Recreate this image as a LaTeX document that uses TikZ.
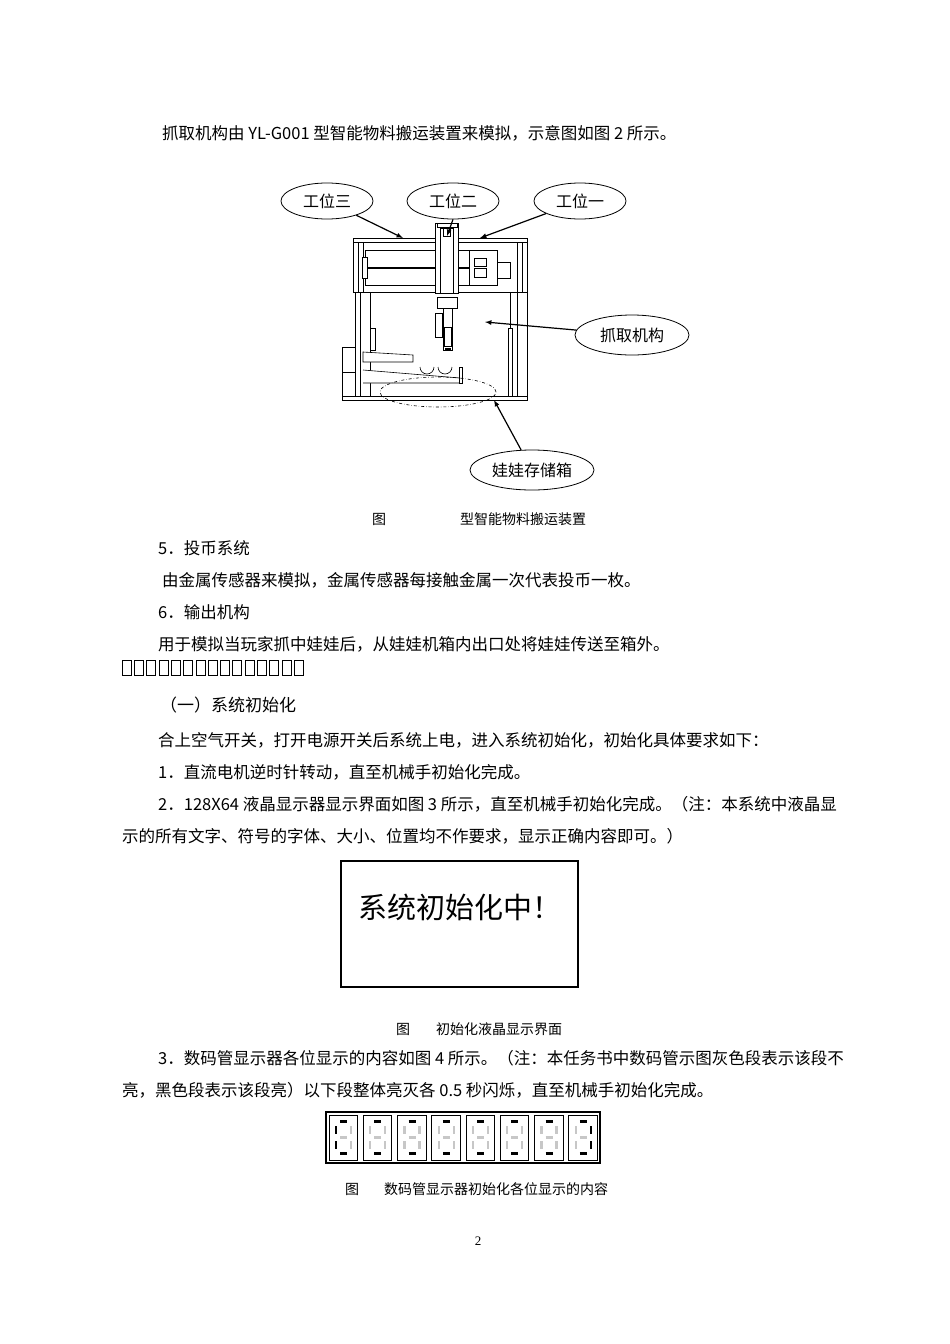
\documentclass[tikz,border=0pt]{standalone}
\usepackage{fontspec}
\setmainfont{Liberation Serif}
\newfontfamily\cjk{Noto Sans CJK SC}
\usetikzlibrary{shapes.geometric}
\begin{document}
\begin{tikzpicture}[x=1pt,y=-1pt,
 txt/.style={anchor=west,inner sep=0pt,font=\cjk\fontsize{16.5}{19}\selectfont},
 captxt/.style={anchor=west,inner sep=0pt,font=\cjk\fontsize{14}{16}\selectfont},
 lab/.style={draw,ellipse,thick,minimum width=92pt,minimum height=36pt,inner sep=0pt,font=\cjk\fontsize{16}{18}\selectfont},
 arr/.style={line width=1.2pt,-latex},
 part/.style={draw,line width=0.6pt,fill=white},
 segon/.style={line width=2.4pt,black},
 segoff/.style={line width=2.4pt,black!22}]
\useasboundingbox (0,0) rectangle (950,1344);
\fill[white] (0,0) rectangle (950,1344);
% text
\node[txt] (t1) at (162,133) {抓取机构由 YL-G001 型智能物料搬运装置来模拟，示意图如图 2 所示。};
\node[captxt] (c1a) at (372,519) {图};
\node[captxt] (c1b) at (460,519) {型智能物料搬运装置};
\node[txt] (t2) at (158,548) {5．投币系统};
\node[txt] (t3) at (162,580) {由金属传感器来模拟，金属传感器每接触金属一次代表投币一枚。};
\node[txt] (t4) at (158,612) {6．输出机构};
\node[txt] (t5) at (158,644) {用于模拟当玩家抓中娃娃后，从娃娃机箱内出口处将娃娃传送至箱外。};
\foreach \i in {0,...,14} \draw[line width=0.5pt] (122+\i*12.3,660) rectangle ++(9,15);
\node[txt,font=\cjk\fontsize{17}{20}\selectfont] (t6) at (160,705) {（一）系统初始化};
\node[txt] (t7) at (158,740) {合上空气开关，打开电源开关后系统上电，进入系统初始化，初始化具体要求如下：};
\node[txt] (t8) at (158,772) {1．直流电机逆时针转动，直至机械手初始化完成。};
\node[txt] (t9) at (158,804) {2．128X64 液晶显示器显示界面如图 3 所示，直至机械手初始化完成。（注：本系统中液晶显};
\node[txt] (t10) at (122,836) {示的所有文字、符号的字体、大小、位置均不作要求，显示正确内容即可。）};
\node[draw,line width=2.8pt,minimum width=237pt,minimum height=126pt] (lcd) at (459.5,924) {};
\node[inner sep=0pt,font=\cjk\fontsize{29}{32}\selectfont] (lcdt) at (460,907) {系统初始化中！};
\node[captxt] (c2a) at (396,1029) {图};
\node[captxt] (c2b) at (436,1029) {初始化液晶显示界面};
\node[txt] (t11) at (158,1058) {3．数码管显示器各位显示的内容如图 4 所示。（注：本任务书中数码管示图灰色段表示该段不};
\node[txt] (t12) at (122,1090) {亮，黑色段表示该段亮）以下段整体亮灭各 0.5 秒闪烁，直至机械手初始化完成。};
% seven segment
\draw[line width=2.2pt] (326,1112) rectangle (600,1163);
\foreach \i in {0,...,7}{
 \begin{scope}[shift={(326+\i*34.25,1112)}]
 \draw[line width=0.9pt] (3,3) rectangle (31.5,48);
 \def\sa{segon}\def\sd{segon}
 \ifnum\i=0 \def\sf{segon}\def\se{segon}\else\def\sf{segoff}\def\se{segoff}\fi
 \ifnum\i=7 \def\sb{segon}\def\sc{segon}\else\def\sb{segoff}\def\sc{segoff}\fi
 \draw[\sa] (14,9.5)--(21,9.5);
 \draw[\sd] (14,41.5)--(21,41.5);
 \draw[segoff] (14,25.5)--(21,25.5);
 \draw[\sf] (10,14)--(10,22);
 \draw[\se] (10,29)--(10,37);
 \draw[\sb] (25,14)--(25,22);
 \draw[\sc] (25,29)--(25,37);
 \end{scope}}
\node[captxt] (c3a) at (345,1189) {图};
\node[captxt] (c3b) at (384,1189) {数码管显示器初始化各位显示的内容};
\node[inner sep=0pt,font=\fontsize{13}{15}\selectfont] (pg) at (478,1241) {2};
% machine
\draw[part] (342,347) rectangle (363,400);
\draw[part] (342,372) -- (363,372);
\draw[part] (353,238) rectangle (527,292);
\draw[part] (353,242) -- (527,242);
\draw[part] (358,242) -- (358,292) (363,242) -- (363,292) (517,242) -- (517,292) (522,242) -- (522,292);
\draw[part] (365,250) rectangle (470,285);
\draw[line width=2pt] (368,268) -- (470,268);
\draw[part] (362,257) rectangle (367,278);
\draw[part] (469,250) rectangle (497,285);
\draw[part] (474,258) rectangle (486,266) (474,268) rectangle (486,277);
\draw[part] (497,262) rectangle (510,278);
\draw[part] (355,292) rectangle (370,396);
\draw[part] (360,292) -- (360,396);
\draw[part] (370,328) rectangle (375,350);
\draw[part] (510,292) rectangle (527,396);
\draw[part] (517,292) -- (517,396);
\draw[part] (508,328) rectangle (512,396);
\draw[part] (363,352) -- (413,355) -- (413,362) -- (363,362) -- cycle;
\draw[part] (363,370) -- (460,378) -- (460,383) -- (363,383);
\draw[part] (420,367) arc (180:0:7) (438,367) arc (180:0:7);
\draw[part] (459,367) rectangle (462,383);
\draw[part] (342,396) rectangle (527,400);
\draw[part] (435,223) rectangle (458,293);
\draw[part] (440,228) rectangle (453,293);
\draw[part] (437,223) rectangle (457,227);
\draw[part] (443,228) rectangle (450,236);
\draw[part] (437,297) rectangle (457,308);
\draw[part] (443,308) rectangle (452,350);
\draw[part] (435,313) rectangle (442,337);
\draw[part] (444,327) rectangle (451,346);
\draw[line width=2pt] (445,349) -- (451,349);
\draw[dash dot,line width=0.6pt] (438,392) ellipse (58pt and 15pt);
% labels
\node[lab] (w3) at (327,201) {工位三};
\node[lab] (w2) at (453,201) {工位二};
\node[lab] (w1) at (580,201) {工位一};
\node[lab,minimum width=114pt,minimum height=40pt] (zq) at (632,335) {抓取机构};
\node[lab,minimum width=124pt,minimum height=40pt] (wc) at (532,470) {娃娃存储箱};
\coordinate (p3) at (403,238);
\coordinate (p2) at (447,236);
\coordinate (p1) at (480,238);
\coordinate (pz) at (485,322);
\coordinate (pw) at (494,400);
\draw[arr] (w3) -- (p3);
\draw[arr] (w2.south) -- (p2);
\draw[arr] (w1) -- (p1);
\draw[arr] (zq) -- (pz);
\draw[arr] (wc) -- (pw);
\end{tikzpicture}
\end{document}
